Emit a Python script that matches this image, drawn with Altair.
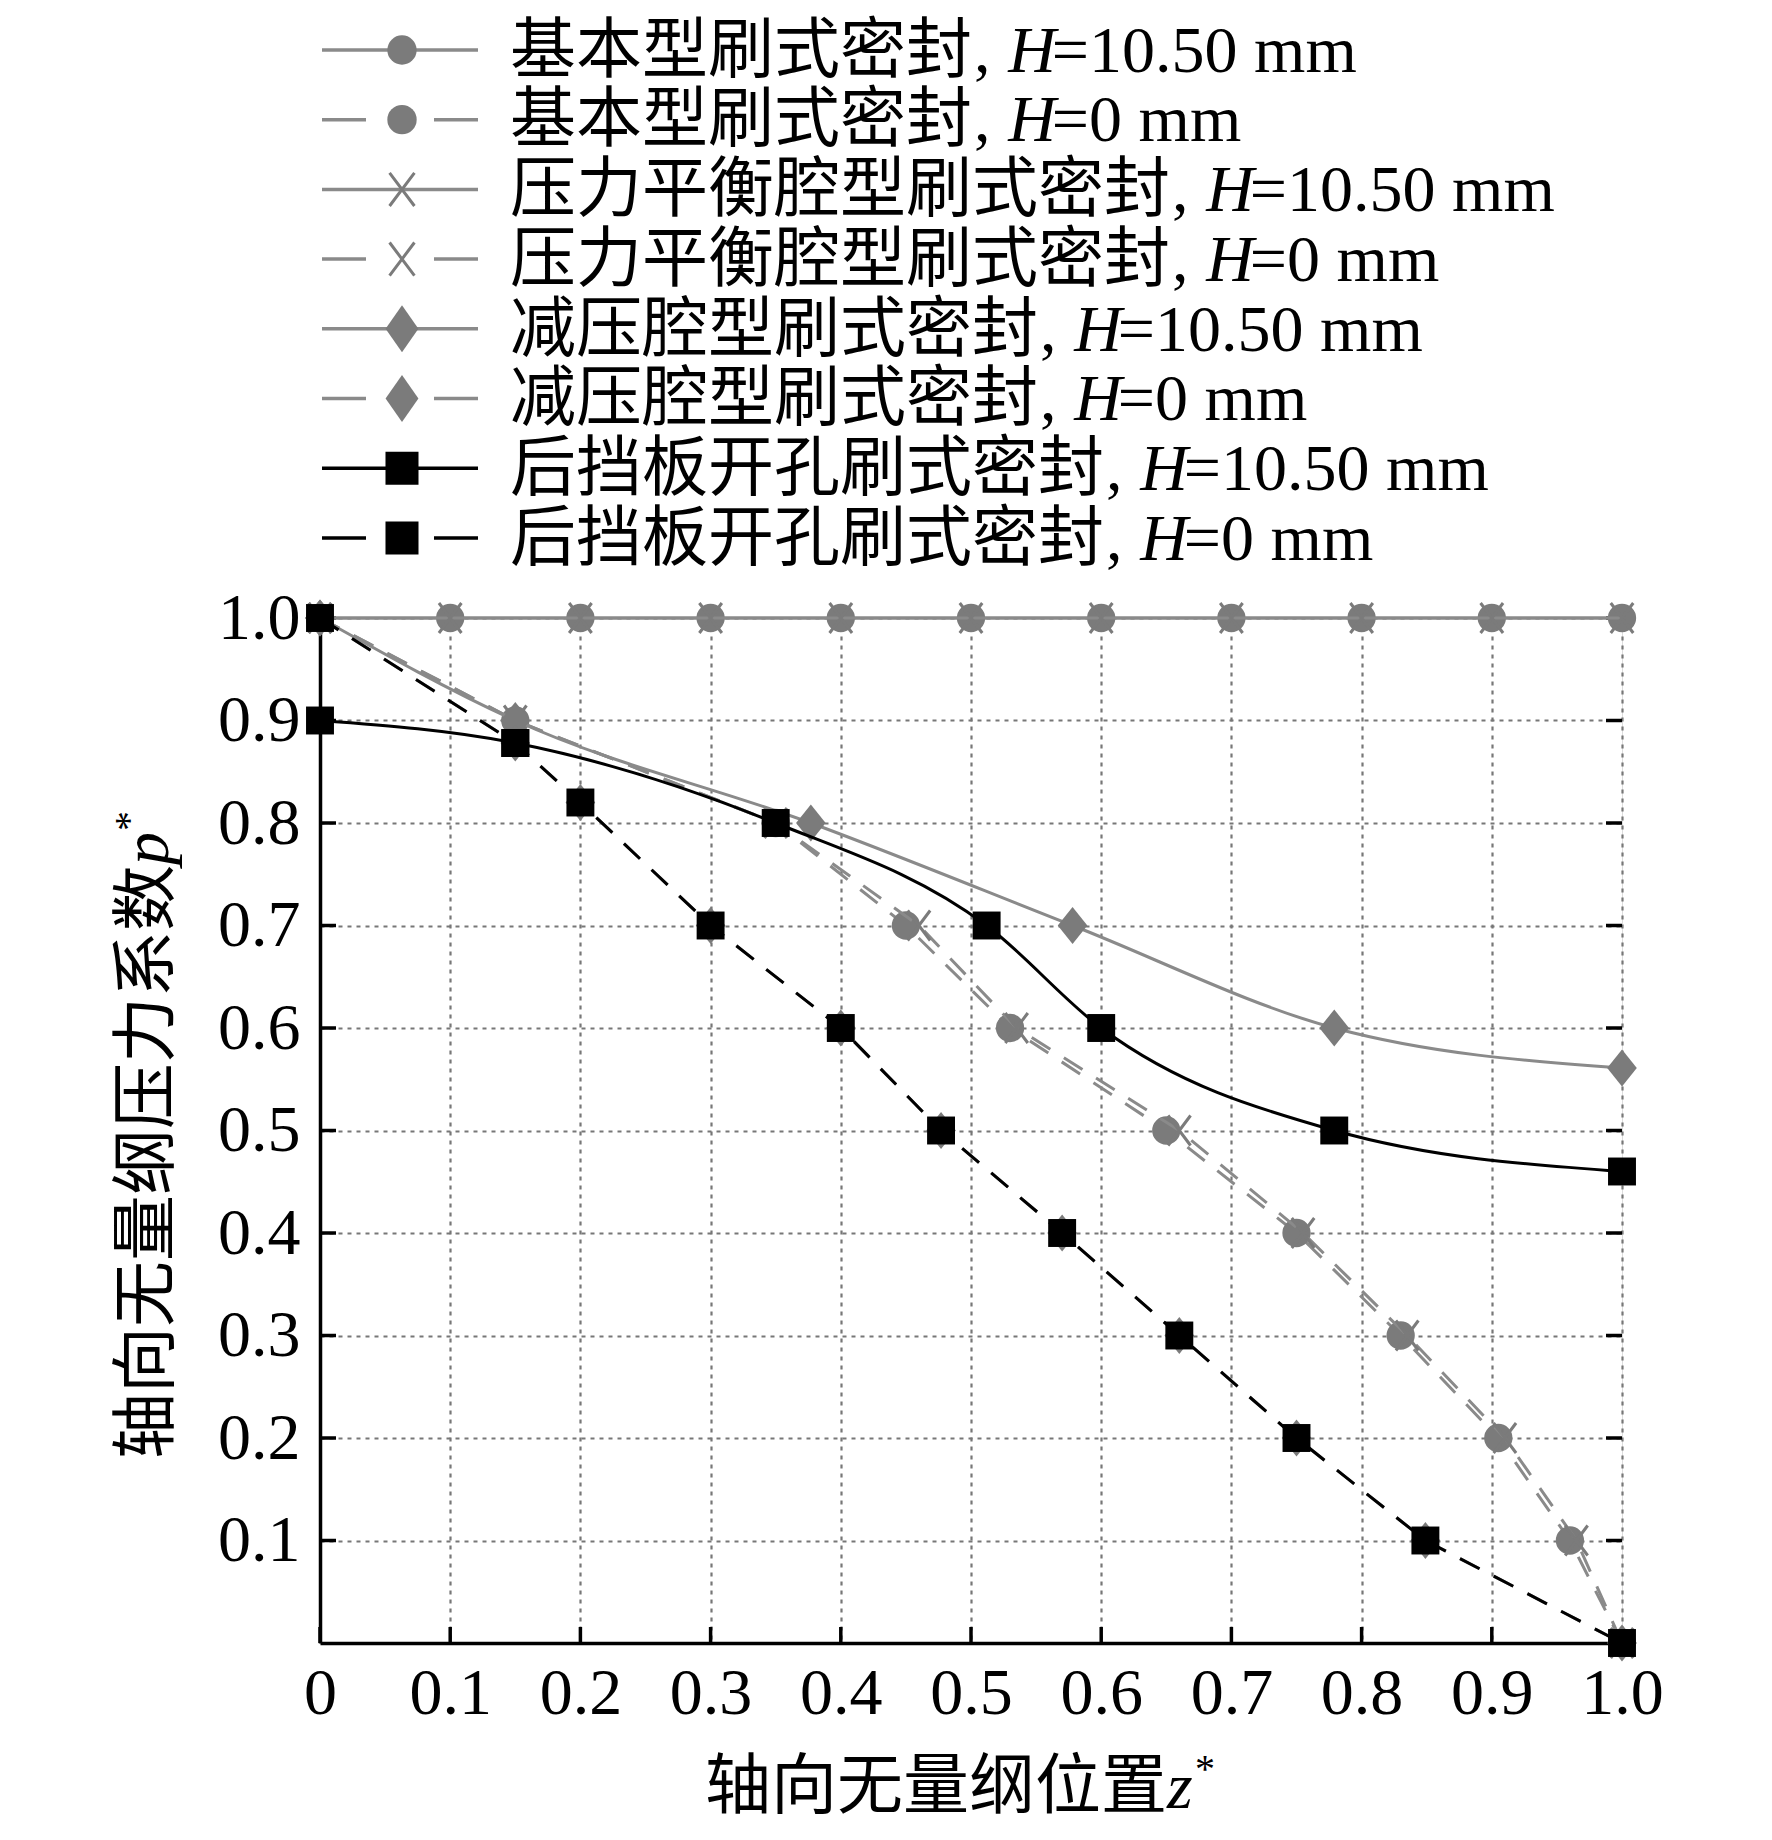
import altair as alt
import pandas as pd

# ---------------- data ----------------
series_cn = ["基本型刷式密封", "基本型刷式密封", "压力平衡腔型刷式密封", "压力平衡腔型刷式密封",
             "减压腔型刷式密封", "减压腔型刷式密封", "后挡板开孔刷式密封", "后挡板开孔刷式密封"]
series_h = ["=10.50 mm", "=0 mm", "=10.50 mm", "=0 mm", "=10.50 mm", "=0 mm", "=10.50 mm", "=0 mm"]

z_basic_h105 = [0.0, 0.1, 0.2, 0.3, 0.4, 0.5, 0.6, 0.7, 0.8, 0.9, 1.0]
p_basic_h105 = [1.0, 1.0, 1.0, 1.0, 1.0, 1.0, 1.0, 1.0, 1.0, 1.0, 1.0]

z_basic_h0 = [0.0, 0.15, 0.35, 0.45, 0.53, 0.65, 0.75, 0.83, 0.905, 0.96, 1.0]
p_basic_h0 = [1.0, 0.9, 0.8, 0.7, 0.6, 0.5, 0.4, 0.3, 0.2, 0.1, 0.0]

z_balance_h105 = [0.0, 0.1, 0.2, 0.3, 0.4, 0.5, 0.6, 0.7, 0.8, 0.9, 1.0]
p_balance_h105 = [1.0, 1.0, 1.0, 1.0, 1.0, 1.0, 1.0, 1.0, 1.0, 1.0, 1.0]

z_balance_h0 = [0.0, 0.15, 0.35, 0.46, 0.535, 0.66, 0.755, 0.835, 0.91, 0.965, 1.0]
p_balance_h0 = [1.0, 0.9, 0.8, 0.7, 0.6, 0.5, 0.4, 0.3, 0.2, 0.1, 0.0]

z_relief_h105 = [0.0, 0.15, 0.377, 0.578, 0.779, 1.0]
p_relief_h105 = [1.0, 0.9, 0.8, 0.7, 0.6, 0.561]

z_relief_h0 = [0.0, 0.15, 0.2, 0.3, 0.4, 0.477, 0.57, 0.66, 0.75, 0.849, 1.0]
p_relief_h0 = [1.0, 0.878, 0.82, 0.7, 0.6, 0.5, 0.4, 0.3, 0.2, 0.1, 0.0]

z_hole_h105 = [0.0, 0.15, 0.35, 0.512, 0.6, 0.779, 1.0]
p_hole_h105 = [0.9, 0.878, 0.8, 0.7, 0.6, 0.5, 0.46]

z_hole_h0 = [0.0, 0.15, 0.2, 0.3, 0.4, 0.477, 0.57, 0.66, 0.75, 0.849, 1.0]
p_hole_h0 = [1.0, 0.878, 0.82, 0.7, 0.6, 0.5, 0.4, 0.3, 0.2, 0.1, 0.0]

x_ticks = [0.0, 0.1, 0.2, 0.3, 0.4, 0.5, 0.6, 0.7, 0.8, 0.9, 1.0]
y_ticks = [0.1, 0.2, 0.3, 0.4, 0.5, 0.6, 0.7, 0.8, 0.9, 1.0]

x_title_cn, x_title_var = "轴向无量纲位置", "z"
y_title_cn, y_title_var = "轴向无量纲压力系数", "p"

# ---------------- styling ----------------
W, H = 1302, 1025
FS = 66
SERIF = "Liberation Serif"
CJK = "Noto Sans CJK SC"
GRAY_L = "#8a8a8a"
GRAY_M = "#7b7b7b"
BLACK = "#000000"
DASH = [22, 16]
LEG_DASH = [44, 68]

DIAMOND_PLOT = "M0,-1L0.8,0L0,1L-0.8,0Z"
DIAMOND_LEG = "M0,-1L0.7,0L0,1L-0.7,0Z"
XMARK = "M-0.75,-1L0.75,1M0.75,-1L-0.75,1"

data_z = [z_basic_h105, z_basic_h0, z_balance_h105, z_balance_h0,
          z_relief_h105, z_relief_h0, z_hole_h105, z_hole_h0]
data_p = [p_basic_h105, p_basic_h0, p_balance_h105, p_balance_h0,
          p_relief_h105, p_relief_h0, p_hole_h105, p_hole_h0]

styles = [
    dict(color=GRAY_L, mcolor=GRAY_M, dash=None, shape="circle", size=800, lshape="circle", lsize=860, filled=True, interp="monotone"),
    dict(color=GRAY_L, mcolor=GRAY_M, dash=DASH, shape="circle", size=800, lshape="circle", lsize=860, filled=True, interp="linear"),
    dict(color=GRAY_L, mcolor=GRAY_M, dash=None, shape=XMARK, size=900, lshape=XMARK, lsize=1100, filled=False, interp="monotone"),
    dict(color=GRAY_L, mcolor=GRAY_M, dash=DASH, shape=XMARK, size=900, lshape=XMARK, lsize=1100, filled=False, interp="linear"),
    dict(color=GRAY_L, mcolor=GRAY_M, dash=None, shape=DIAMOND_PLOT, size=1370, lshape=DIAMOND_LEG, lsize=2200, filled=True, interp="monotone"),
    dict(color=GRAY_L, mcolor=GRAY_M, dash=DASH, shape=DIAMOND_PLOT, size=1370, lshape=DIAMOND_LEG, lsize=2200, filled=True, interp="linear"),
    dict(color=BLACK, mcolor=BLACK, dash=None, shape="square", size=780, lshape="square", lsize=1090, filled=True, interp="monotone"),
    dict(color=BLACK, mcolor=BLACK, dash=DASH, shape="square", size=780, lshape="square", lsize=1090, filled=True, interp="linear"),
]

x_scale = alt.Scale(domain=[0, 1], nice=False, zero=False)
y_scale = alt.Scale(domain=[0, 1], nice=False, zero=False)

GRID_COLOR = "#777777"
x_axis = alt.Axis(
    values=x_ticks, title=None, grid=True, gridColor=GRID_COLOR, gridDash=[4, 5], gridWidth=2.2,
    ticks=False, domainColor="black", domainWidth=3.5,
    labelExpr="datum.value == 0 ? '0' : format(datum.value, '.1f')",
    labelFont=SERIF, labelFontSize=FS, labelColor="black", labelPadding=18,
    labelFlush=False, labelOverlap=False,
)
y_axis = alt.Axis(
    values=y_ticks, title=None, grid=True, gridColor=GRID_COLOR, gridDash=[4, 5], gridWidth=2.2,
    ticks=False, domainColor="black", domainWidth=3.5,
    labelExpr="format(datum.value, '.1f')",
    labelFont=SERIF, labelFontSize=FS, labelColor="black", labelPadding=20,
    labelFlush=False, labelOverlap=False,
)

X = lambda f: alt.X(f, type="quantitative", scale=x_scale, axis=x_axis)
Y = lambda f: alt.Y(f, type="quantitative", scale=y_scale, axis=y_axis)

layers = []
one = pd.DataFrame({"d": [0]})

# inward tick marks
tick_x_df = pd.DataFrame({"t": x_ticks})
tick_y_df = pd.DataFrame({"t": y_ticks})
layers.append(alt.Chart(tick_y_df).mark_rule(color="black", strokeWidth=3.5).encode(
    y=Y("t"), x=alt.value(0), x2=alt.value(16)))
layers.append(alt.Chart(tick_y_df).mark_rule(color="black", strokeWidth=3.5).encode(
    y=Y("t"), x=alt.value(W - 16), x2=alt.value(W)))
layers.append(alt.Chart(tick_x_df).mark_rule(color="black", strokeWidth=3.5).encode(
    x=X("t"), y=alt.value(H - 16), y2=alt.value(H)))

# series
for i in range(8):
    st = styles[i]
    df = pd.DataFrame({"z": data_z[i], "p": data_p[i]})
    line_kw = dict(color=st["color"], strokeWidth=3, interpolate=st["interp"], clip=False)
    if st["dash"]:
        line_kw["strokeDash"] = st["dash"]
    layers.append(alt.Chart(df).mark_line(**line_kw).encode(x=X("z"), y=Y("p")))
    pt_kw = dict(shape=st["shape"], size=st["size"], filled=st["filled"], color=st["mcolor"],
                 opacity=1)
    if not st["filled"]:
        pt_kw["strokeWidth"] = 3
    layers.append(alt.Chart(df).mark_point(**pt_kw).encode(x=X("z"), y=Y("p")))

# manual legend above plot
row0, drow = -568.0, 69.7
for i in range(8):
    st = styles[i]
    yr = row0 + drow * i
    rkw = dict(color=st["color"], strokeWidth=3.5)
    if st["dash"]:
        rkw["strokeDash"] = LEG_DASH
    layers.append(alt.Chart(one).mark_rule(**rkw).encode(
        x=alt.value(2), x2=alt.value(158), y=alt.value(yr)))
    pkw = dict(shape=st["lshape"], size=st["lsize"], filled=st["filled"], color=st["mcolor"], opacity=1)
    if not st["filled"]:
        pkw["strokeWidth"] = 3
    layers.append(alt.Chart(one).mark_point(**pkw).encode(x=alt.value(82), y=alt.value(yr)))
    yb = yr + 0.33 * FS
    x0 = 190
    x1 = x0 + len(series_cn[i]) * FS
    layers.append(alt.Chart(pd.DataFrame({"t": [series_cn[i]]})).mark_text(
        font=CJK, fontSize=FS, align="left", baseline="alphabetic", color="black").encode(
        text="t:N", x=alt.value(x0), y=alt.value(yb)))
    layers.append(alt.Chart(pd.DataFrame({"t": [","]})).mark_text(
        font=SERIF, fontSize=FS, align="left", baseline="alphabetic", color="black").encode(
        text="t:N", x=alt.value(x1 + 2), y=alt.value(yb)))
    layers.append(alt.Chart(pd.DataFrame({"t": ["H"]})).mark_text(
        font=SERIF, fontSize=FS, fontStyle="italic", align="left", baseline="alphabetic",
        color="black").encode(text="t:N", x=alt.value(x1 + 0.55 * FS), y=alt.value(yb)))
    layers.append(alt.Chart(pd.DataFrame({"t": [series_h[i]]})).mark_text(
        font=SERIF, fontSize=FS, align="left", baseline="alphabetic", color="black").encode(
        text="t:N", x=alt.value(x1 + 0.55 * FS + 0.66 * FS), y=alt.value(yb)))

# x-axis title
xt_x0, xt_yb = 385, 1190
layers.append(alt.Chart(pd.DataFrame({"t": [x_title_cn]})).mark_text(
    font=CJK, fontSize=FS, align="left", baseline="alphabetic", color="black").encode(
    text="t:N", x=alt.value(xt_x0), y=alt.value(xt_yb)))
xz = xt_x0 + len(x_title_cn) * FS
layers.append(alt.Chart(pd.DataFrame({"t": [x_title_var]})).mark_text(
    font=SERIF, fontSize=FS, fontStyle="italic", align="left", baseline="alphabetic",
    color="black").encode(text="t:N", x=alt.value(xz), y=alt.value(xt_yb)))
layers.append(alt.Chart(pd.DataFrame({"t": ["*"]})).mark_text(
    font=SERIF, fontSize=40, align="left", baseline="alphabetic", color="black").encode(
    text="t:N", x=alt.value(xz + 28), y=alt.value(xt_yb - 26)))

# y-axis title (rotated)
yt_xb, yt_y0 = -152, 841
layers.append(alt.Chart(pd.DataFrame({"t": [y_title_cn]})).mark_text(
    font=CJK, fontSize=FS, angle=270, align="left", baseline="alphabetic", color="black").encode(
    text="t:N", x=alt.value(yt_xb), y=alt.value(yt_y0)))
yp = yt_y0 - len(y_title_cn) * FS
layers.append(alt.Chart(pd.DataFrame({"t": [y_title_var]})).mark_text(
    font=SERIF, fontSize=FS, fontStyle="italic", angle=270, align="left", baseline="alphabetic",
    color="black").encode(text="t:N", x=alt.value(yt_xb), y=alt.value(yp)))
layers.append(alt.Chart(pd.DataFrame({"t": ["*"]})).mark_text(
    font=SERIF, fontSize=40, angle=270, align="left", baseline="alphabetic", color="black").encode(
    text="t:N", x=alt.value(yt_xb - 26), y=alt.value(yp - 34)))

chart = alt.layer(*layers).properties(
    width=W, height=H,
    padding={"left": 102, "top": 10, "right": 20, "bottom": 10},
).configure_view(stroke="black", strokeWidth=3.5).configure(background="#ffffff")

chart.save("out.html", embed_options={"renderer": "svg", "actions": False})
